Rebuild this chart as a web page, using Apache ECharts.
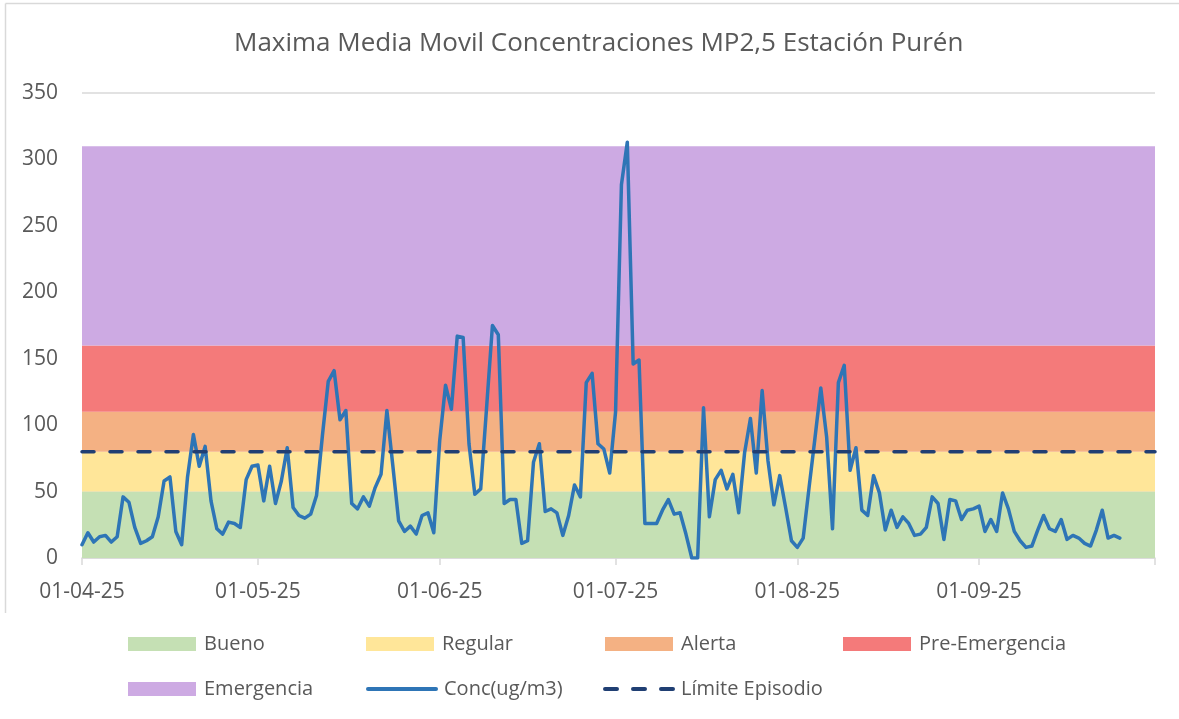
<!DOCTYPE html>
<html><head><meta charset="utf-8">
<script src="https://cdn.jsdelivr.net/npm/echarts@6/dist/echarts.min.js"></script>
<style>html,body{margin:0;padding:0;background:#fff}#c{width:1179px;height:719px}</style>
</head><body><div id="c"></div>
<script>
// ---- data ----
const titleText = 'Maxima Media Movil Concentraciones MP2,5 Estación Purén';
const startDate = '2025-04-01';
const endDate = '2025-10-01';
// daily values from 01-04-25 onward
const concValues = [
  10,19,12,16,17,12,16,46,42,23,11,13,16,31,58,61,20,10,61,93,69,84,43,22,18,27,26,23,59,69,
  70,43,69,41,58,83,38,32,30,33,47,92,133,141,104,111,41,37,46,39,53,63,111,70,28,20,24,18,32,34,19,
  88,130,112,167,166,86,48,52,113,175,168,41,44,44,11,13,72,86,35,37,34,17,32,55,46,132,139,86,82,64,
  110,281,313,146,149,26,26,26,36,44,33,34,18,0,0,113,31,59,66,52,63,34,79,105,64,126,73,40,62,38,13,
  8,15,53,90,128,91,22,132,145,66,83,36,32,62,49,21,36,23,31,26,17,18,23,46,41,14,44,43,29,36,37,
  39,20,29,20,49,37,20,13,8,9,21,32,22,20,29,14,17,15,11,9,21,36,15,17,15
];
const bandNames = ['Bueno', 'Regular', 'Alerta', 'Pre-Emergencia', 'Emergencia'];
const bandUpper = [50, 80, 110, 160, 310];
const concName = 'Conc(ug/m3)';
const limitName = 'Límite Episodio';
const limitValue = 80;
const yMin = 0, yMax = 350, yInterval = 50;

// ---- styles ----
const bandColors = ['#C5E0B4', '#FFE699', '#F4B183', '#F47A7A', '#CDAAE3'];
const concColor = '#2E75B6';
const limitColor = '#203F73';
const textColor = '#595959';
const gridColor = '#D9D9D9';
const FONT = '"Open Sans", sans-serif';

// ---- build categories ----
function fmt(d) {
  const dd = String(d.getUTCDate()).padStart(2, '0');
  const mm = String(d.getUTCMonth() + 1).padStart(2, '0');
  const yy = String(d.getUTCFullYear()).slice(2);
  return dd + '-' + mm + '-' + yy;
}
const categories = [];
{
  const d = new Date(startDate + 'T00:00:00Z');
  const e = new Date(endDate + 'T00:00:00Z');
  while (d <= e) { categories.push(fmt(d)); d.setUTCDate(d.getUTCDate() + 1); }
}
const lastIdx = categories.length - 1;

const series = [];
bandNames.forEach((name, i) => {
  const lower = i === 0 ? 0 : bandUpper[i - 1];
  const h = bandUpper[i] - lower;
  series.push({
    name, type: 'line', stack: 'bands', symbol: 'none', silent: true,
    data: categories.map(() => h),
    lineStyle: { width: 0 },
    itemStyle: { color: bandColors[i] },
    areaStyle: { color: bandColors[i], opacity: 1 },
    z: 1
  });
});
series.push({
  name: concName, type: 'line', symbol: 'none', data: concValues,
  lineStyle: { width: 3.5, color: concColor, join: 'round', cap: 'round' },
  itemStyle: { color: concColor }, z: 3
});
series.push({
  name: limitName, type: 'line', symbol: 'none',
  data: categories.map(() => limitValue),
  lineStyle: { width: 3.5, color: limitColor, type: [12, 16], cap: 'round' },
  itemStyle: { color: limitColor }, z: 4
});

const legendPos = [
  [bandNames[0], 128, 634, 'rect'],
  [bandNames[1], 366, 634, 'rect'],
  [bandNames[2], 605, 634, 'rect'],
  [bandNames[3], 843, 634, 'rect'],
  [bandNames[4], 128, 679, 'rect'],
  [concName, 366, 679, null],
  [limitName, 603, 679, null]
];
const legends = legendPos.map(([name, left, top, icon]) => {
  const o = {
    data: [name], left, top, itemWidth: 68, itemHeight: 14, padding: 0,
    selectedMode: false,
    textStyle: { color: textColor, fontSize: 20, fontFamily: FONT, padding: [0, 0, 0, 3] }
  };
  if (icon) o.icon = icon;
  else {
    o.itemStyle = { opacity: 0 };
    o.lineStyle = { width: 4, cap: 'round' };
  }
  return o;
});

const chart = echarts.init(document.getElementById('c'), null, { renderer: 'canvas' });
chart.setOption({
  animation: false,
  backgroundColor: '#fff',
  title: {
    text: titleText, left: 229, top: 26,
    textStyle: { color: textColor, fontSize: 26, fontWeight: 'normal', fontFamily: FONT }
  },
  legend: legends,
  grid: { left: 82, right: 24, top: 93, bottom: 161, containLabel: false, outerBoundsMode: 'none' },
  xAxis: {
    type: 'category', data: categories, boundaryGap: false,
    axisLine: { lineStyle: { color: gridColor, width: 1.5 } },
    axisTick: { show: true, length: 7, lineStyle: { color: gridColor, width: 1.5 },
      interval: (idx, val) => val.startsWith('01-') },
    axisLabel: { color: textColor, fontSize: 21, fontFamily: FONT, margin: 24,
      interval: (idx, val) => val.startsWith('01-') && idx !== lastIdx },
    splitLine: { show: false }
  },
  yAxis: {
    type: 'value', min: yMin, max: yMax, interval: yInterval,
    axisLine: { show: false }, axisTick: { show: false },
    axisLabel: { color: textColor, fontSize: 21, fontFamily: FONT, margin: 24 },
    splitLine: { lineStyle: { color: gridColor, width: 1.5 } }
  },
  graphic: [
    { type: 'line', shape: { x1: 5.5, y1: 3.5, x2: 1179, y2: 3.5 }, style: { stroke: gridColor, lineWidth: 1.5 }, silent: true },
    { type: 'line', shape: { x1: 5.5, y1: 3.5, x2: 5.5, y2: 613 }, style: { stroke: gridColor, lineWidth: 1.5 }, silent: true }
  ],
  series
});
</script></body></html>
